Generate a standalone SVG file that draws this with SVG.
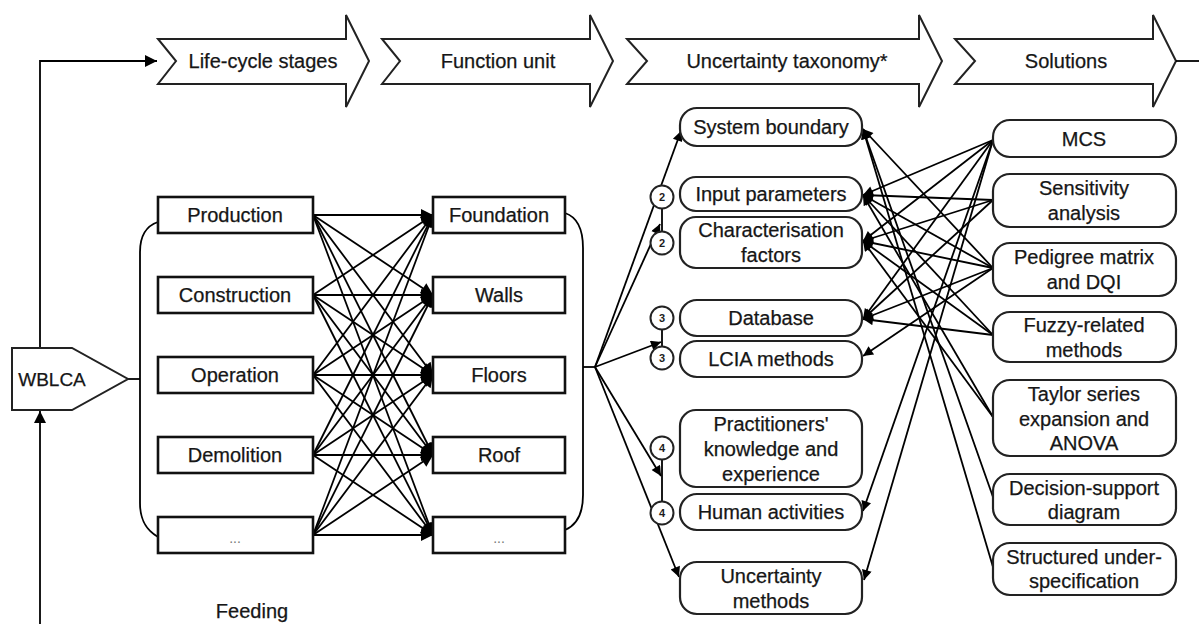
<svg xmlns="http://www.w3.org/2000/svg" width="1199" height="624" viewBox="0 0 1199 624">
<defs>
<marker id="ah" viewBox="0 0 10 10" refX="10" refY="5" markerWidth="16" markerHeight="12" markerUnits="userSpaceOnUse" orient="auto"><path d="M0,0 L10,5 L0,10 z" fill="#000"/></marker>
<marker id="ahs" viewBox="0 0 10 10" refX="10" refY="5" markerWidth="14" markerHeight="10" markerUnits="userSpaceOnUse" orient="auto"><path d="M0,0 L10,5 L0,10 z" fill="#000"/></marker>
</defs>
<style>
.t{font-family:"Liberation Sans",Arial,sans-serif;font-size:20px;fill:#161616;stroke:#161616;stroke-width:0.25;text-anchor:middle}
.n{font-family:"Liberation Sans",Arial,sans-serif;font-size:11px;font-weight:bold;fill:#1c1c1c;text-anchor:middle}
.d{font-family:"Liberation Sans",Arial,sans-serif;font-size:14px;fill:#777;text-anchor:middle}
.box{fill:#fff;stroke:#111;stroke-width:2.6}
.rbox{fill:#fff;stroke:#222;stroke-width:2.2}
.chev{fill:#fff;stroke:#222;stroke-width:2;stroke-linejoin:miter}
.ln{fill:none;stroke:#000;stroke-width:1.8}
.la{fill:none;stroke:#000;stroke-width:1.8;marker-end:url(#ah)}
.ls{fill:none;stroke:#000;stroke-width:1.8;marker-end:url(#ahs)}
.circ{fill:#fff;stroke:#222;stroke-width:2}
</style>
<rect width="1199" height="624" fill="#fff"/>

<g id="stages-banner">
<path class="chev" d="M158,39 L346,39 L346,15 L369,61 L346,107 L346,84 L158,84 L176,61 Z"/>
<text class="t" x="263" y="68">Life-cycle stages</text>
</g>
<g id="function-banner">
<path class="chev" d="M382,39 L590,39 L590,15 L613,61 L590,107 L590,84 L382,84 L400,61 Z"/>
<text class="t" x="498" y="68">Function unit</text>
</g>
<g id="uncertainty-banner">
<path class="chev" d="M627,39 L919,39 L919,15 L942,61 L919,107 L919,84 L627,84 L647,61 Z"/>
<text class="t" x="787" y="68">Uncertainty taxonomy*</text>
</g>
<g id="solutions-banner">
<path class="chev" d="M955,39 L1153,39 L1153,15 L1176,61 L1153,107 L1153,84 L955,84 L975,61 Z"/>
<text class="t" x="1066" y="68">Solutions</text>
</g>

<g id="connectors">
<path class="la" d="M40,348 L40,61 L157,61"/>
<path class="la" d="M40,624 L40,411"/>
<path class="ln" d="M1176,61 L1199,61"/>
<path class="ln" d="M128,379 L140,379"/>
<path class="ln" d="M158,222 C146,226 140,236 140,252 L140,503 C140,520 146,530 158,537"/>
<path class="ln" d="M565,213 C577,217 583,228 583,248 L583,495 C583,513 577,525 565,530"/>
<path class="ln" d="M583,367 L595,367"/>
<path class="la" d="M313,215 L433,215"/><path class="la" d="M313,215 L433,295"/><path class="la" d="M313,215 L433,375"/><path class="la" d="M313,215 L433,455"/><path class="la" d="M313,215 L433,535"/>
<path class="la" d="M313,295 L433,215"/><path class="la" d="M313,295 L433,295"/><path class="la" d="M313,295 L433,375"/><path class="la" d="M313,295 L433,455"/><path class="la" d="M313,295 L433,535"/>
<path class="la" d="M313,375 L433,215"/><path class="la" d="M313,375 L433,295"/><path class="la" d="M313,375 L433,375"/><path class="la" d="M313,375 L433,455"/><path class="la" d="M313,375 L433,535"/>
<path class="la" d="M313,455 L433,215"/><path class="la" d="M313,455 L433,295"/><path class="la" d="M313,455 L433,375"/><path class="la" d="M313,455 L433,455"/><path class="la" d="M313,455 L433,535"/>
<path class="la" d="M313,535 L433,215"/><path class="la" d="M313,535 L433,295"/><path class="la" d="M313,535 L433,375"/><path class="la" d="M313,535 L433,455"/><path class="la" d="M313,535 L433,535"/>
<path class="ls" d="M595,367 L681,131"/>
<path class="ls" d="M595,367 L660,224"/>
<path class="ls" d="M595,367 L661,342"/>
<path class="ls" d="M595,367 L661,476"/>
<path class="ls" d="M595,367 L679,577"/>
<path class="ln" d="M662,209 L662,231"/>
<path class="ln" d="M662,329 L662,346"/>
<path class="ln" d="M662,459 L662,502"/>
<path class="ls" d="M993,140 L863,195"/><path class="ls" d="M993,140 L863,241"/><path class="ls" d="M993,140 L863,319"/><path class="ls" d="M993,140 L863,511"/><path class="ls" d="M993,140 L864,580"/>
<path class="ls" d="M993,200 L863,195"/><path class="ls" d="M993,200 L863,241"/><path class="ls" d="M993,200 L863,319"/>
<path class="ls" d="M993,268 L863,129"/><path class="ls" d="M993,268 L863,195"/><path class="ls" d="M993,268 L863,241"/><path class="ls" d="M993,268 L863,319"/><path class="ls" d="M993,268 L863,356"/>
<path class="ls" d="M993,335 L863,195"/><path class="ls" d="M993,335 L863,241"/><path class="ls" d="M993,335 L863,319"/>
<path class="ls" d="M993,417 L863,195"/><path class="ls" d="M993,417 L863,241"/>
<path class="ls" d="M993,497 L863,129"/>
<path class="ls" d="M993,567 L863,129"/>
</g>

<g id="wblca">
<path d="M12,348 L72,348 L128,379 L72,410 L12,410 Z" fill="#fff" stroke="#222" stroke-width="2"/>
<text class="t" x="52" y="386" style="font-size:19px">WBLCA</text>
</g>

<g id="production"><rect class="box" x="158" y="197" width="155" height="36"/><text class="t" x="235" y="222">Production</text></g>
<g id="construction"><rect class="box" x="158" y="277" width="155" height="36"/><text class="t" x="235" y="302">Construction</text></g>
<g id="operation"><rect class="box" x="158" y="357" width="155" height="36"/><text class="t" x="235" y="382">Operation</text></g>
<g id="demolition"><rect class="box" x="158" y="437" width="155" height="36"/><text class="t" x="235" y="462">Demolition</text></g>
<g id="stage-more"><rect class="box" x="158" y="517" width="155" height="36"/><text class="d" x="235" y="543">...</text></g>

<g id="foundation"><rect class="box" x="433" y="197" width="132" height="36"/><text class="t" x="499" y="222">Foundation</text></g>
<g id="walls"><rect class="box" x="433" y="277" width="132" height="36"/><text class="t" x="499" y="302">Walls</text></g>
<g id="floors"><rect class="box" x="433" y="357" width="132" height="36"/><text class="t" x="499" y="382">Floors</text></g>
<g id="roof"><rect class="box" x="433" y="437" width="132" height="36"/><text class="t" x="499" y="462">Roof</text></g>
<g id="function-more"><rect class="box" x="433" y="517" width="132" height="36"/><text class="d" x="499" y="543">...</text></g>

<g id="system-boundary"><rect class="rbox" x="680" y="108" width="182" height="38" rx="17"/><text class="t" x="771" y="134">System boundary</text></g>
<g id="input-parameters"><rect class="rbox" x="680" y="177" width="182" height="34" rx="16"/><text class="t" x="771" y="201">Input parameters</text></g>
<g id="characterisation-factors"><rect class="rbox" x="680" y="217" width="182" height="51" rx="16"/><text class="t" x="771" y="237">Characterisation</text><text class="t" x="771" y="262">factors</text></g>
<g id="database"><rect class="rbox" x="680" y="300" width="182" height="36" rx="17"/><text class="t" x="771" y="325">Database</text></g>
<g id="lcia-methods"><rect class="rbox" x="680" y="341" width="182" height="36" rx="17"/><text class="t" x="771" y="366">LCIA methods</text></g>
<g id="practitioners"><rect class="rbox" x="680" y="410" width="182" height="77" rx="16"/><text class="t" x="771" y="431">Practitioners'</text><text class="t" x="771" y="456">knowledge and</text><text class="t" x="771" y="481">experience</text></g>
<g id="human-activities"><rect class="rbox" x="680" y="494" width="182" height="36" rx="17"/><text class="t" x="771" y="519">Human activities</text></g>
<g id="uncertainty-methods"><rect class="rbox" x="680" y="562" width="182" height="52" rx="17"/><text class="t" x="771" y="583">Uncertainty</text><text class="t" x="771" y="608">methods</text></g>

<g id="num-2a"><circle class="circ" cx="662" cy="197" r="11.5"/><text class="n" x="662" y="201">2</text></g>
<g id="num-2b"><circle class="circ" cx="662" cy="243" r="11.5"/><text class="n" x="662" y="247">2</text></g>
<g id="num-3a"><circle class="circ" cx="662" cy="318" r="11.5"/><text class="n" x="662" y="322">3</text></g>
<g id="num-3b"><circle class="circ" cx="662" cy="358" r="11.5"/><text class="n" x="662" y="362">3</text></g>
<g id="num-4a"><circle class="circ" cx="662" cy="448" r="11.5"/><text class="n" x="662" y="452">4</text></g>
<g id="num-4b"><circle class="circ" cx="662" cy="513" r="11.5"/><text class="n" x="662" y="517">4</text></g>

<g id="mcs"><rect class="rbox" x="993" y="120" width="183" height="37" rx="17"/><text class="t" x="1084" y="146">MCS</text></g>
<g id="sensitivity"><rect class="rbox" x="993" y="174" width="183" height="53" rx="17"/><text class="t" x="1084" y="195">Sensitivity</text><text class="t" x="1084" y="220">analysis</text></g>
<g id="pedigree"><rect class="rbox" x="993" y="243" width="183" height="53" rx="17"/><text class="t" x="1084" y="264">Pedigree matrix</text><text class="t" x="1084" y="289">and DQI</text></g>
<g id="fuzzy"><rect class="rbox" x="993" y="312" width="183" height="50" rx="17"/><text class="t" x="1084" y="332">Fuzzy-related</text><text class="t" x="1084" y="357">methods</text></g>
<g id="taylor"><rect class="rbox" x="993" y="380" width="183" height="76" rx="17"/><text class="t" x="1084" y="401">Taylor series</text><text class="t" x="1084" y="426">expansion and</text><text class="t" x="1084" y="450">ANOVA</text></g>
<g id="decision-support"><rect class="rbox" x="993" y="474" width="183" height="51" rx="17"/><text class="t" x="1084" y="495">Decision-support</text><text class="t" x="1084" y="519">diagram</text></g>
<g id="structured"><rect class="rbox" x="993" y="543" width="183" height="52" rx="17"/><text class="t" x="1084" y="564">Structured under-</text><text class="t" x="1084" y="588">specification</text></g>

<text class="t" x="252" y="618">Feeding</text>
</svg>
